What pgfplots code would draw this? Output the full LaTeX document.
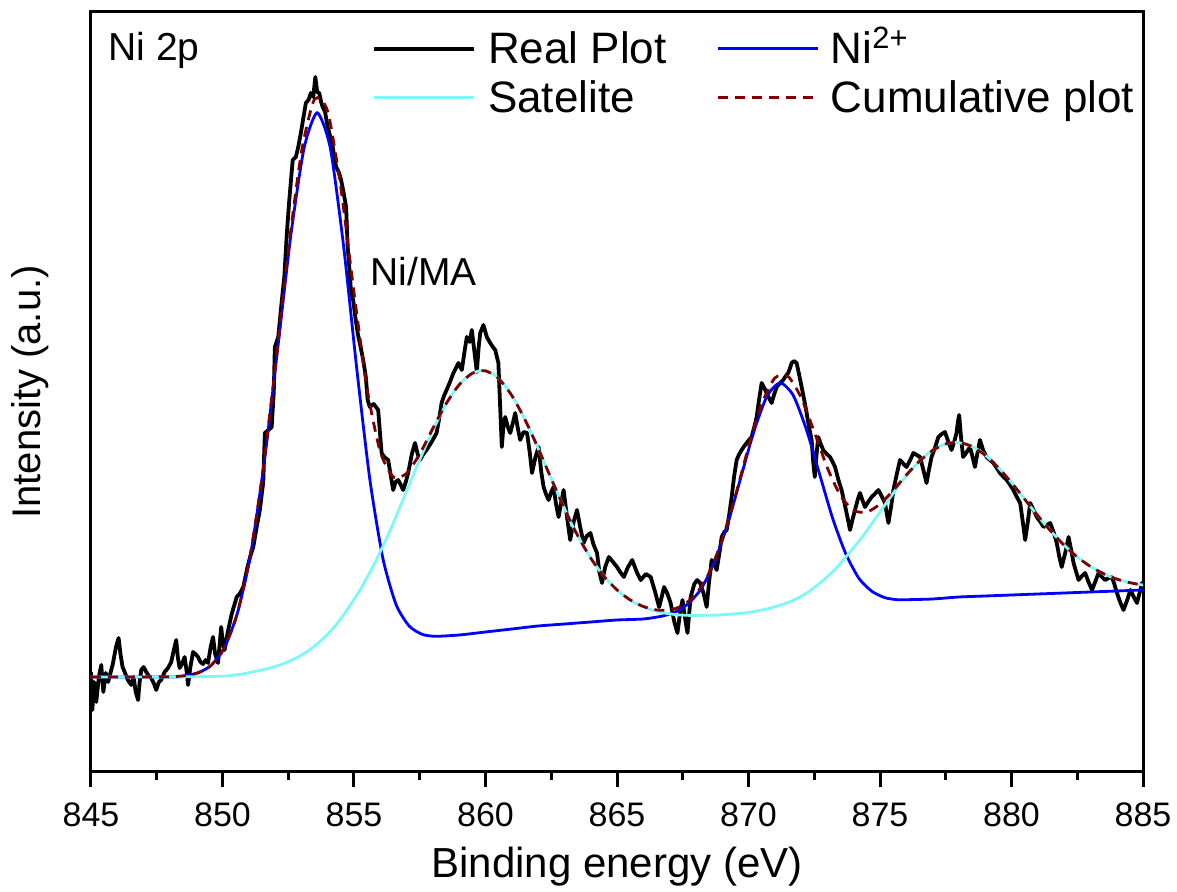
\documentclass[border=0pt]{standalone}
\usepackage{pgfplots}
\pgfplotsset{compat=1.18}
\usepackage{fontspec}
\setmainfont{Liberation Sans}
\definecolor{satcyan}{RGB}{125,248,248}
\definecolor{wine}{RGB}{128,0,0}
\begin{document}
\begin{tikzpicture}
\useasboundingbox (-45.5pt,-60pt) rectangle (543pt,386pt);
\begin{axis}[
  scale only axis, width=526pt, height=380pt,
  xmin=845, xmax=885, ymin=0, ymax=760,
  xtick={845,850,...,885}, minor x tick num=1,
  ytick=\empty, xtick pos=lower, tick align=outside,
  major tick length=7.5pt, minor tick length=4pt,
  every tick/.style={line width=1.5pt, black},
  axis line style={line width=1.5pt},
  /pgf/number format/assume math mode=true,
  /pgf/number format/1000 sep={},
  xticklabel style={font=\fontsize{17}{20}\selectfont, inner sep=0pt, yshift=-7.5pt},
  every axis x label/.style={at={(axis description cs:0.5,-0.125)}, anchor=center, font=\fontsize{21}{25}\selectfont},
  every axis y label/.style={at={(axis description cs:-0.058,0.5)}, rotate=90, anchor=center, font=\fontsize{20}{24}\selectfont},
  xlabel={Binding energy (eV)}, ylabel={Intensity (a.u.)},
  legend columns=2, legend cell align=left,
  legend style={at={(axis cs:855.68,741)}, anchor=north west, draw=none, fill=none, inner sep=0pt,
    font=\fontsize{22}{26}\selectfont,
    nodes={inner sep=0pt, text height=16pt, text depth=8.5pt},
    /tikz/every odd column/.append style={column sep=6pt},
    /tikz/every even column/.append style={column sep=24.75pt}},
  legend image code/.code={\draw[#1] (0pt,3.5pt) -- (50pt,3.5pt);},
]
% Real Plot
\addplot[black, line width=1.9pt, line join=round] coordinates {
(845.00,100) (845.05,62) (845.12,90) (845.2,70) (845.3,95) (845.39,107) (845.47,80) (845.56,99) (845.65,90) (845.75,100)
(845.83,108) (845.95,125) (846.05,134) (846.12,118) (846.2,105) (846.28,100) (846.4,92) (846.53,87) (846.62,95) (846.7,80)
(846.79,72) (846.85,90) (846.91,102) (847.0,105) (847.1,100) (847.2,96) (847.29,94) (847.4,88) (847.48,82) (847.58,90)
(847.67,92) (847.8,100) (847.93,104) (848.05,110) (848.15,122) (848.24,132) (848.3,115) (848.37,104) (848.46,108) (848.56,115)
(848.64,100) (848.69,87) (848.78,105) (848.88,120) (848.97,118) (849.07,115) (849.16,110) (849.26,108) (849.36,112) (849.45,109)
(849.55,125) (849.64,135) (849.72,118) (849.83,109) (849.9,130) (849.95,145) (850.02,128) (850.08,122)
(850.2,140) (850.35,158) (850.54,175) (850.65,178) (850.79,185) (850.95,205) (851.05,215) (851.17,225) (851.3,245) (851.42,262)
(851.55,290) (851.61,339) (851.75,342) (851.87,345) (851.95,380) (851.99,425) (852.12,435) (852.25,470) (852.35,495) (852.45,540)
(852.54,572) (852.67,612) (852.79,615) (852.88,625) (852.98,639) (853.08,655) (853.17,669) (853.27,672) (853.36,679) (853.45,675)
(853.53,695) (853.6,680) (853.68,679) (853.75,670) (853.81,665) (853.9,660) (854.0,645) (854.1,635) (854.19,625) (854.32,605)
(854.42,600) (854.51,592) (854.6,580) (854.7,565) (854.76,525) (854.82,505) (854.89,479) (854.97,472) (855.05,455) (855.14,439)
(855.25,425) (855.35,412) (855.45,395) (855.52,372) (855.6,365) (855.75,368) (855.92,362) (856.0,335) (856.05,319) (856.15,315)
(856.3,312) (856.4,296) (856.49,282) (856.58,290) (856.68,292) (856.78,287) (856.87,282) (856.97,290) (857.06,299) (857.2,318)
(857.32,329) (857.42,318) (857.51,312) (857.64,318) (857.76,322) (857.95,330) (858.14,339) (858.25,355) (858.33,369) (858.42,376)
(858.52,382) (858.65,390) (858.78,399) (858.97,409) (859.1,402) (859.2,420) (859.29,435) (859.4,430) (859.48,442) (859.58,420)
(859.67,400) (859.74,425) (859.8,439) (859.92,447) (860.05,435) (860.18,429) (860.28,425) (860.37,422) (860.49,409) (860.55,370)
(860.62,325) (860.68,345) (860.75,355) (860.85,345) (860.94,339) (861.05,350) (861.13,359) (861.22,345) (861.32,332) (861.45,340)
(861.58,339) (861.68,320) (861.77,299) (861.9,315) (862.02,325) (862.12,300) (862.21,285) (862.3,278) (862.4,272) (862.5,280)
(862.59,285) (862.68,268) (862.78,255) (862.88,270) (862.97,282) (863.1,255) (863.22,232) (863.35,250) (863.48,262) (863.6,245)
(863.73,229) (863.85,236) (863.99,239) (864.1,228) (864.24,219) (864.33,200) (864.43,189) (864.55,205) (864.69,215) (864.85,210)
(865.0,205) (865.12,200) (865.26,195) (865.42,205) (865.58,212) (865.75,200) (865.9,192) (866.1,198) (866.28,195) (866.45,180)
(866.6,165) (866.7,175) (866.79,185) (866.92,178) (867.04,169) (867.18,150) (867.3,139) (867.4,160) (867.49,172) (867.58,155)
(867.68,139) (867.8,175) (867.94,188) (868.05,192) (868.16,189) (868.3,178) (868.41,165) (868.5,190) (868.6,212) (868.7,208)
(868.79,202) (868.9,220) (868.98,235) (869.08,240) (869.17,242) (869.27,258) (869.36,275) (869.45,295) (869.55,312) (869.65,318)
(869.74,322) (869.84,326) (869.93,329) (870.02,332) (870.12,335) (870.22,345) (870.31,355) (870.4,372) (870.5,389) (870.6,384)
(870.69,379) (870.78,374) (870.88,369) (870.98,378) (871.07,385) (871.2,389) (871.32,392) (871.42,396) (871.51,399) (871.58,404)
(871.64,409) (871.73,411) (871.83,409) (871.92,398) (872.02,385) (872.12,372) (872.21,359) (872.3,345) (872.4,332) (872.46,310)
(872.52,295) (872.58,315) (872.65,335) (872.75,328) (872.84,322) (872.97,318) (873.1,315) (873.2,310) (873.29,305) (873.42,292)
(873.54,282) (873.64,270) (873.73,259) (873.8,250) (873.86,242) (873.95,252) (874.05,262) (874.15,272) (874.24,279) (874.33,272)
(874.43,265) (874.55,270) (874.68,275) (874.8,278) (874.94,282) (875.06,276) (875.19,269) (875.26,258) (875.32,249) (875.42,265)
(875.51,282) (875.64,298) (875.76,312) (875.9,308) (876.01,305) (876.15,312) (876.27,319) (876.4,317) (876.52,315) (876.65,302)
(876.77,289) (876.86,302) (876.96,315) (877.1,325) (877.22,335) (877.35,338) (877.47,340) (877.6,330) (877.72,322) (877.82,330)
(877.91,339) (877.96,350) (878.01,357) (878.08,335) (878.16,315) (878.3,320) (878.42,325) (878.52,315) (878.61,305) (878.7,318)
(878.8,332) (878.92,322) (879.05,315) (879.18,312) (879.31,309) (879.44,304) (879.56,299) (879.7,295) (879.82,292) (879.95,287)
(880.07,282) (880.2,275) (880.33,269) (880.43,250) (880.52,232) (880.62,250) (880.71,269) (880.84,262) (880.96,255) (881.1,250)
(881.22,245) (881.35,247) (881.47,249) (881.6,240) (881.72,229) (881.82,215) (881.91,205) (882.05,220) (882.17,235) (882.27,222)
(882.36,209) (882.46,200) (882.55,192) (882.68,196) (882.8,199) (882.93,190) (883.06,182) (883.18,190) (883.31,199) (883.44,195)
(883.56,192) (883.7,194) (883.82,195) (883.92,187) (884.01,179) (884.13,170) (884.26,162) (884.4,172) (884.52,182) (884.65,175)
(884.77,169) (884.88,180) (884.96,189) (885.0,185)
};
\addlegendentry{Real Plot}
% Ni2+
\addplot[blue, line width=1.4pt, smooth, tension=0.4] coordinates {
(845,95) (848.1,95) (848.6,96.4) (849.1,99.4) (849.6,107.3) (850.1,125.7) (850.6,161.9) (851.1,222.4) (851.6,312.4) (852.1,423.5)
(852.6,537) (853.1,623.7) (853.6,659.2) (854.1,623.8) (854.6,526.8) (855.1,404.5) (855.6,293) (856.1,213.4) (856.6,167.4) (857.1,145.9)
(857.6,137.6) (858.1,135.7) (859,137) (860,140) (861,143) (862,146) (863,148) (864,150) (865,152) (866,153)
(866.7,155.8) (867.2,159.8) (867.7,168.1) (868.2,183.2) (868.7,209.7) (869.2,247.2) (869.7,293.7) (870.2,340.2) (870.7,375.7) (871.2,389.2)
(871.7,376.7) (872.2,342.6) (872.7,298.1) (873.2,253.6) (873.7,218.1) (874.2,193.6) (874.7,180.5) (875.2,174.2) (875.7,172.2) (876.2,172.4)
(877,173) (878,175) (879,176) (880,177) (881,178) (882,179) (883,180) (884,181) (885,182)
};
\addlegendentry{Ni\textsuperscript{2+}}
% Satelite
\addplot[satcyan, line width=1.4pt, smooth, tension=0.4] coordinates {
(845,95) (848,95) (850,95.8) (850.8,98.2) (851.8,103.9) (852.3,108.2) (852.8,113.9) (853.3,121.9) (853.8,132.6) (854.3,146.6)
(854.8,164.4) (855.3,185.2) (855.8,209.5) (856.3,237.2) (856.8,268.2) (857.3,299.9) (857.8,330.4) (858.3,357.9) (858.8,380.4) (859.3,395.2)
(859.8,401.4) (860.3,397.9) (860.8,384.4) (861.3,362.9) (861.8,335.4) (862.3,305.6) (862.8,275.6) (863.3,246.6) (863.8,222.6) (864.3,202.6)
(864.8,187.1) (865.3,175.6) (865.8,167.5) (866.3,162.2) (866.8,159) (867.3,157.2) (867.8,156.6) (868.8,156.9) (869.8,158.9) (870.3,160.9)
(870.8,163.7) (871.3,167.6) (871.8,172.9) (872.3,180.5) (872.8,190.7) (873.3,202.9) (873.8,218) (874.3,234.2) (874.8,252.4) (875.3,271.3)
(875.8,289.4) (876.3,305.2) (876.8,317.9) (877.3,326) (877.8,329.6) (878.3,327.7) (878.8,321.1) (879.3,309.9) (879.8,295.8) (880.3,279.7)
(880.8,262.8) (881.3,246.6) (881.8,232.4) (882.3,219.3) (882.8,209.1) (883.3,200.9) (883.8,194.9) (884.3,190.6) (884.8,187.7) (885,187)
};
\addlegendentry{Satelite}
% Cumulative
\addplot[wine, line width=1.4pt, dash pattern=on 5pt off 3.5pt, smooth, tension=0.4] coordinates {
(845,95) (846,95) (847,95) (848,95.3) (848.5,96.1) (849,98.6) (849.5,105.2) (850,121) (850.5,152.9) (851,208.8)
(851.5,293.8) (852,403.4) (852.5,521.3) (853,619.6) (853.5,672.9) (854,660.7) (854.5,584.2) (855,479.5) (855.5,382.8) (856,320.1)
(856.5,294.9) (857,298.6) (857.5,318.1) (858,343.7) (858.5,368.2) (859,387.3) (859.5,398.8) (860,401.2) (860.5,393.4) (861,376.5)
(861.5,352.4) (862,323.9) (862.5,293.2) (863,263.5) (863.5,236.6) (864,213.9) (864.5,195.8) (865,182.1) (865.5,172.1) (866,165.5)
(866.5,162.1) (867,161.9) (867.5,166.5) (868,177.9) (868.5,199) (869,232.2) (869.5,276.1) (870,324.9) (870.5,367.9) (871,394)
(871.5,395.7) (872,374.5) (872.5,340.2) (873,304.1) (873.5,276.2) (874,261.5) (874.5,259.9) (875,267.9) (875.5,281.5) (876,297)
(876.5,310.8) (877,321.5) (877.5,328.1) (878,329.6) (878.5,325.5) (879,316.8) (879.5,304.3) (880,289.3) (880.5,272.8) (881,256.3)
(881.5,240.7) (882,226.8) (882.5,215) (883,205.5) (883.5,198.3) (884,192.9) (884.5,189.3) (885,186.9)
};
\addlegendentry{Cumulative plot}
\node[anchor=west, font=\fontsize{19.5}{23}\selectfont, inner sep=0pt] at (axis cs:845.65,722) {Ni 2p};
\node[anchor=west, font=\fontsize{19.5}{23}\selectfont, inner sep=0pt] at (axis cs:855.61,500) {Ni/MA};
\end{axis}
\end{tikzpicture}
\end{document}
